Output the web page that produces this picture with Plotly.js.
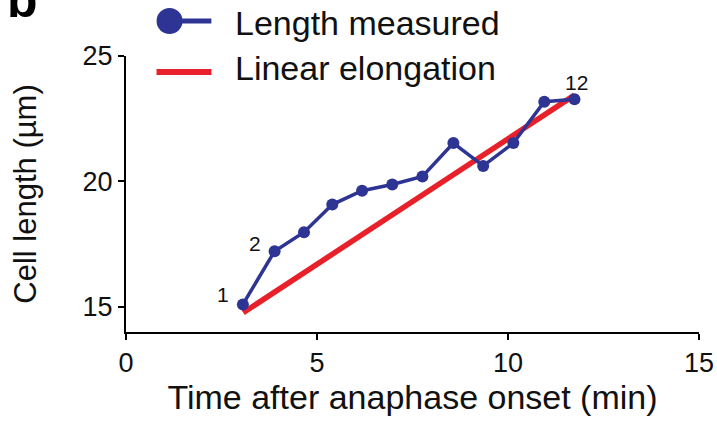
<!DOCTYPE html>
<html>
<head>
<meta charset="utf-8">
<script src="https://cdn.plot.ly/plotly-3.0.1.min.js"></script>
<style>
  html, body { margin: 0; padding: 0; background: #fff; }
  #chart { width: 717px; height: 421px; }
</style>
</head>
<body>
<div id="chart"></div>
<script>
// ---- data ----
const timeMin = [3.06, 3.89, 4.66, 5.40, 6.18, 6.97, 7.76, 8.57, 9.35, 10.14, 10.95, 11.74];
const cellLength = [15.1, 17.22, 17.98, 19.08, 19.63, 19.88, 20.2, 21.53, 20.62, 21.53, 23.18, 23.28];
const fitTime = [3.07, 11.74];
const fitLength = [14.77, 23.44];
const pointLabels = ["1", "2", "12"];
const labelIndex = [0, 1, 11];
const legendLabels = ["Length measured", "Linear elongation"];
const xTicks = [0, 5, 10, 15];
const yTicks = [15, 20, 25];

const blue = '#2e3494';
const red = '#e8202a';
const font = 'Liberation Sans, Arial, Helvetica, sans-serif';

const traces = [
  {
    x: fitTime, y: fitLength, type: 'scatter', mode: 'lines',
    line: { color: red, width: 5.5 }, showlegend: false, hoverinfo: 'skip'
  },
  {
    x: timeMin, y: cellLength, type: 'scatter', mode: 'lines+markers',
    line: { color: blue, width: 3.5 },
    marker: { color: blue, size: 12 },
    showlegend: false
  }
];

const labelShifts = [[-20, 10], [-20, 8], [2, 17]];
const annotations = pointLabels.map((t, k) => ({
  x: timeMin[labelIndex[k]], y: cellLength[labelIndex[k]],
  xref: 'x', yref: 'y', text: t, showarrow: false,
  xshift: labelShifts[k][0], yshift: labelShifts[k][1],
  font: { family: font, size: 21, color: '#111' }
}));

// panel letter (cropped at the top, as in the reference)
annotations.push({
  x: -0.212, y: 1.094, xref: 'paper', yref: 'paper', xanchor: 'left', yanchor: 'bottom',
  text: '<b>b</b>', showarrow: false, font: { family: font, size: 50, color: '#000' }
});

// legend text
annotations.push({
  x: 0.1860, y: 1.120, xref: 'paper', yref: 'paper', xanchor: 'left', yanchor: 'middle',
  text: legendLabels[0], showarrow: false, font: { family: font, size: 34, color: '#111' }
});
annotations.push({
  x: 0.1860, y: 0.957, xref: 'paper', yref: 'paper', xanchor: 'left', yanchor: 'middle',
  text: legendLabels[1], showarrow: false, font: { family: font, size: 34, color: '#111' }
});

// legend glyphs
const shapes = [
  { type: 'line', xref: 'paper', yref: 'paper', x0: 0.076, x1: 0.149, y0: 1.127, y1: 1.127,
    line: { color: blue, width: 5 } },
  { type: 'circle', xref: 'paper', yref: 'paper', x0: 0.0533, x1: 0.0987, y0: 1.0797, y1: 1.1739,
    fillcolor: blue, line: { color: blue, width: 0 } },
  { type: 'line', xref: 'paper', yref: 'paper', x0: 0.0533, x1: 0.149, y0: 0.942, y1: 0.942,
    line: { color: red, width: 6 } }
];

const layout = {
  width: 717, height: 421,
  margin: { l: 126, r: 18, t: 56, b: 89, pad: 0 },
  paper_bgcolor: '#fff', plot_bgcolor: '#fff',
  font: { family: font, color: '#111' },
  showlegend: false,
  xaxis: {
    range: [0, 15], tickvals: xTicks, ticktext: xTicks.map(String),
    showgrid: false, zeroline: false, showline: true, linecolor: '#000', linewidth: 2,
    ticks: 'outside', ticklen: 6, tickwidth: 2, tickcolor: '#000',
    tickfont: { family: font, size: 27, color: '#111' },
    title: { text: 'Time after anaphase onset (min)', font: { family: font, size: 34, color: '#111' }, standoff: 6 },
    automargin: false, fixedrange: true
  },
  yaxis: {
    range: [14, 25], tickvals: yTicks, ticktext: yTicks.map(String),
    showgrid: false, zeroline: false, showline: true, linecolor: '#000', linewidth: 2,
    ticks: 'outside', ticklen: 6, tickwidth: 2, tickcolor: '#000',
    tickfont: { family: font, size: 27, color: '#111' },
    title: { text: 'Cell length (µm)', font: { family: font, size: 31, color: '#111' }, standoff: 37 },
    automargin: false, fixedrange: true
  },
  annotations: annotations,
  shapes: shapes
};

Plotly.newPlot('chart', traces, layout, { displayModeBar: false, staticPlot: true });
</script>
</body>
</html>
